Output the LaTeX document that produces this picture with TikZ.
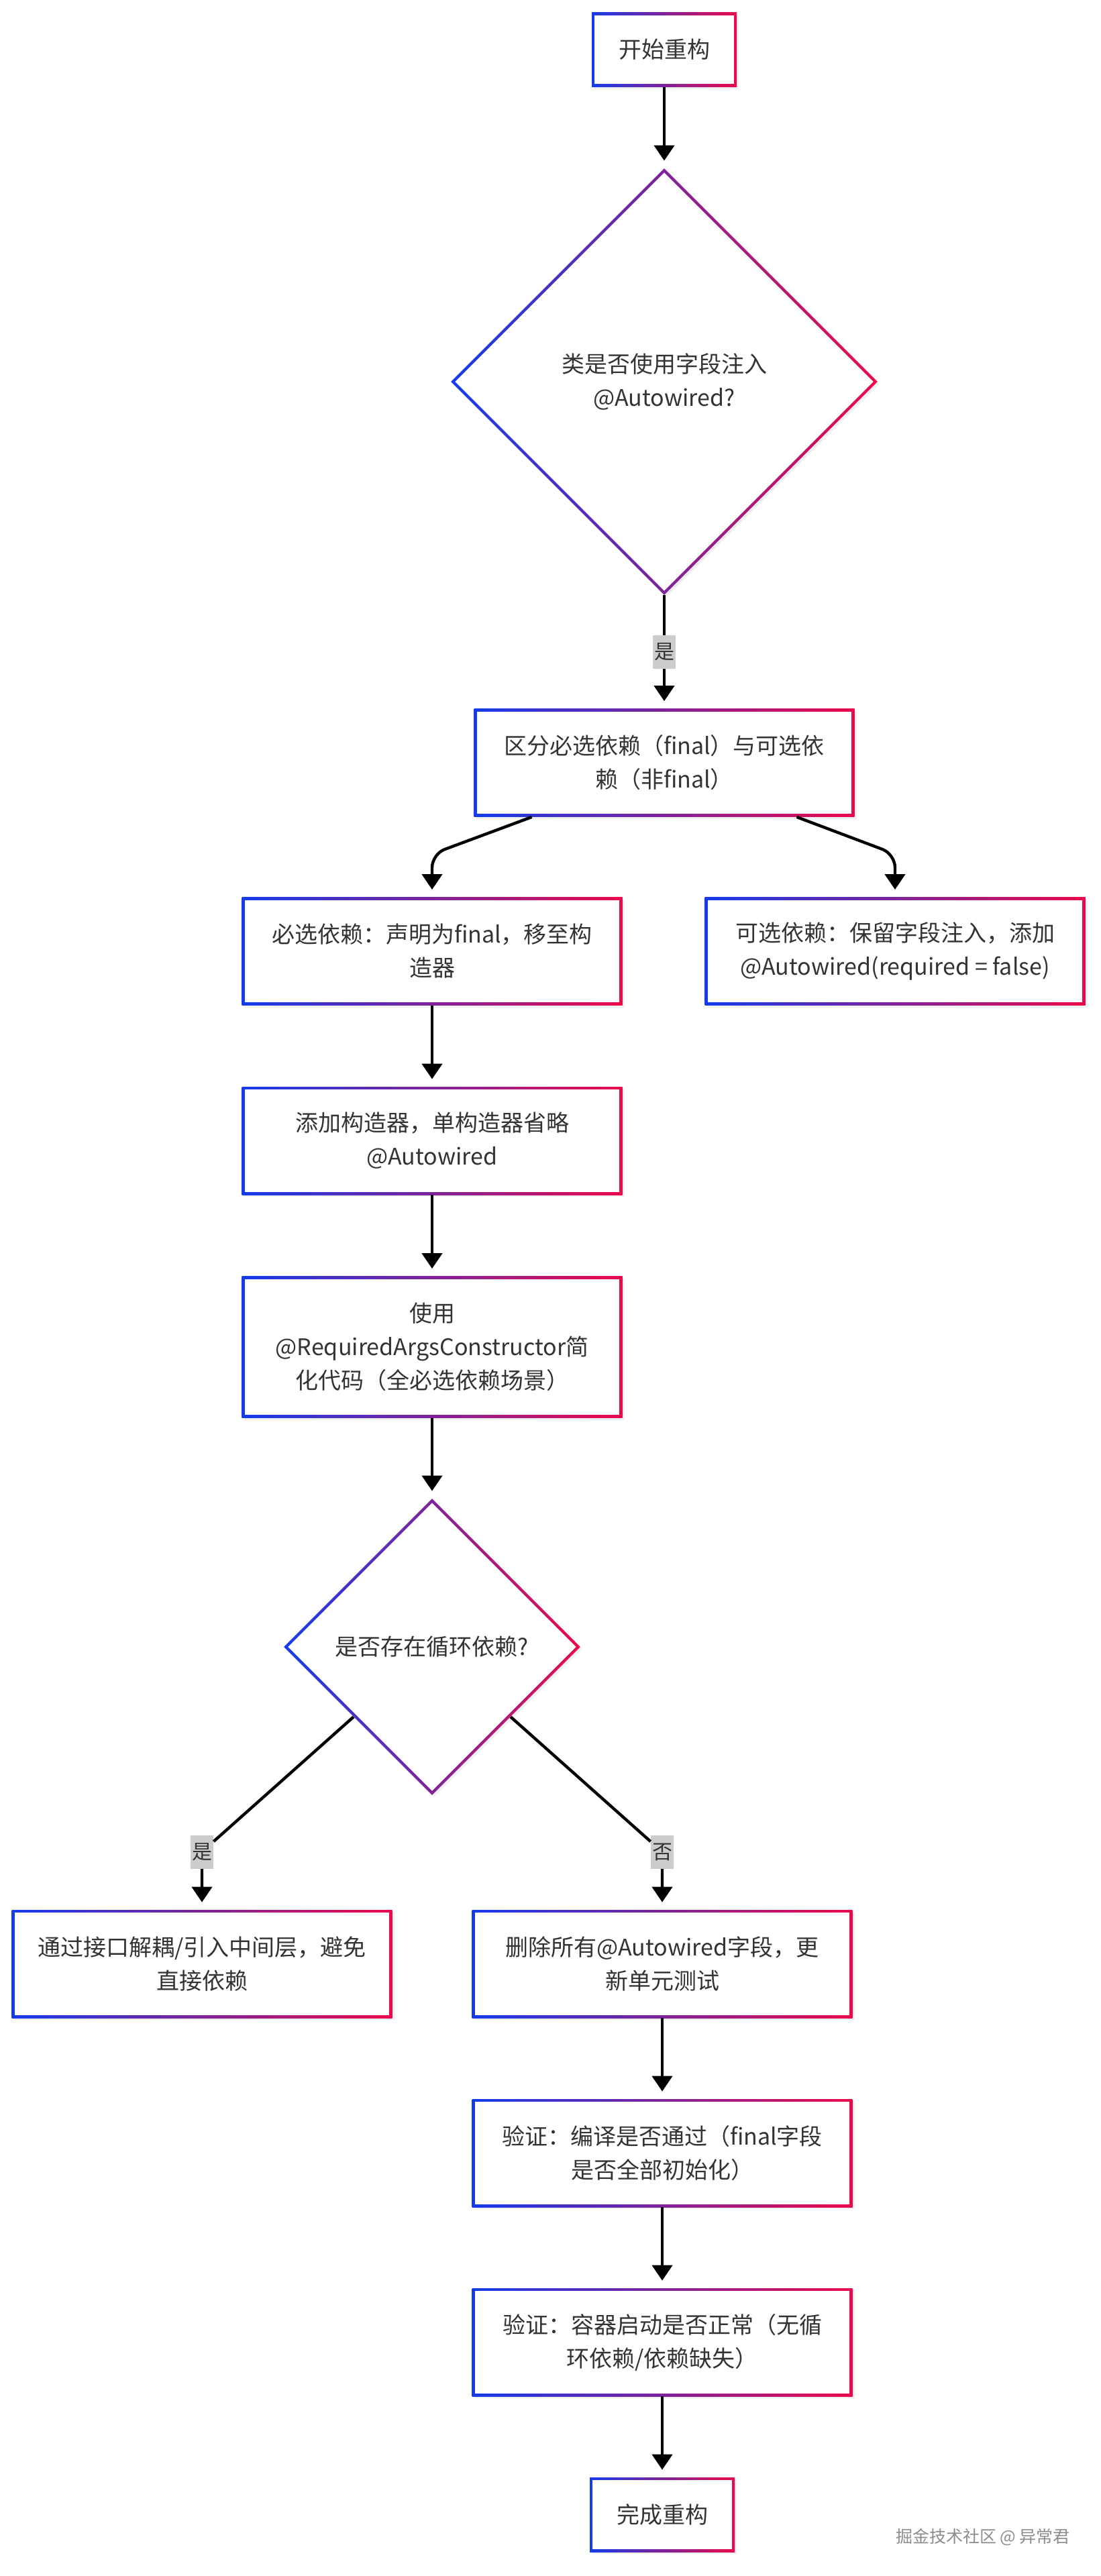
\documentclass[tikz,border=0pt]{standalone}
\usepackage{fontspec}
\setmainfont{Noto Sans CJK SC}
\usetikzlibrary{positioning,shapes.geometric,arrows.meta,shadows}
\definecolor{gradblue}{RGB}{20,60,235}
\definecolor{gradred}{RGB}{235,10,75}
\definecolor{textgray}{RGB}{51,51,51}
\definecolor{taggray}{RGB}{204,204,204}
\definecolor{markgray}{RGB}{140,140,140}
\newcommand{\boxfont}{\fontsize{17pt}{25pt}\selectfont}

\begin{document}
\begin{tikzpicture}[node distance=141pt,
step node/.style={rectangle,minimum width=283.5pt,minimum height=80.5pt,align=center,text=textgray,font=\boxfont,left color=gradblue,right color=gradred,drop shadow={opacity=0.12,shadow xshift=1.5pt,shadow yshift=-1.5pt},path picture={\fill[white] ([shift={(2.2pt,2.2pt)}]path picture bounding box.south west) rectangle ([shift={(-2.2pt,-2.2pt)}]path picture bounding box.north east);}},
end node/.style={step node,minimum width=108pt,minimum height=55.5pt},
choice node/.style={diamond,aspect=1,inner sep=2pt,align=center,text=textgray,font=\boxfont,left color=gradblue,right color=gradred,drop shadow={opacity=0.12,shadow xshift=1.5pt,shadow yshift=-1.5pt},path picture={\fill[white] ([yshift=-3.1pt]path picture bounding box.north) -- ([xshift=-3.1pt]path picture bounding box.east) -- ([yshift=3.1pt]path picture bounding box.south) -- ([xshift=3.1pt]path picture bounding box.west) -- cycle;}},
tag node/.style={fill=taggray,text=textgray,font=\fontsize{15pt}{17pt}\selectfont,inner xsep=1pt,inner ysep=0pt,minimum height=25pt},
flow/.style={draw,line width=2.2pt,-{Triangle[length=11.5pt,width=15pt]},shorten >=5.5pt}]
\useasboundingbox (0,0) rectangle (820pt,-1920pt);

\node[end node] (start) at (495pt,-37pt) {开始重构};
\node[choice node,minimum width=318pt,minimum height=318pt] (field) [below of=start,node distance=247.5pt] {类是否使用字段注入\\@Autowired?};
\node[step node] (split) [below of=field,node distance=284pt] {区分必选依赖（final）与可选依\\赖（非final）};
\node[step node] (required) [below of=split,xshift=-173pt,node distance=140.5pt] {必选依赖：声明为final，移至构\\造器};
\node[step node] (optional) [right of=required,node distance=345pt] {可选依赖：保留字段注入，添加\\@Autowired(required = false)};
\node[step node] (ctor) [below of=required,node distance=141.25pt] {添加构造器，单构造器省略\\@Autowired};
\node[step node,minimum height=105.5pt] (lombok) [below of=ctor,node distance=153.75pt] {使用\\@RequiredArgsConstructor简\\化代码（全必选依赖场景）};
\node[choice node,minimum width=221pt,minimum height=221pt] (cycle) [below of=lombok,node distance=223.5pt] {是否存在循环依赖?};
\node[step node] (decouple) [below of=cycle,xshift=-171.5pt,node distance=236.25pt] {通过接口解耦/引入中间层，避免\\直接依赖};
\node[step node] (remove) [right of=decouple,node distance=343pt] {删除所有@Autowired字段，更\\新单元测试};
\node[step node] (compile) [below of=remove] {验证：编译是否通过（final字段\\是否全部初始化）};
\node[step node] (boot) [below of=compile] {验证：容器启动是否正常（无循\\环依赖/依赖缺失）};
\node[end node] (done) [below of=boot,node distance=128.5pt] {完成重构};
\node[tag node] (yes) [above of=decouple,node distance=83.5pt] {是};
\node[tag node] (no) [above of=remove,node distance=83.5pt] {否};
\node[text=markgray,font=\fontsize{12.5pt}{14pt}\selectfont] (mark) at (732.5pt,-1891pt) {掘金技术社区 @ 异常君};

\draw[flow] (start) -- (field);
\draw[flow] (field) -- node[tag node] {是} (split);
\draw[flow,rounded corners=10pt] ([xshift=-98.75pt]split.south) -- ([yshift=32pt]required.north) -- (required);
\draw[flow,rounded corners=10pt] ([xshift=98.75pt]split.south) -- ([yshift=32pt]optional.north) -- (optional);
\draw[flow] (required) -- (ctor);
\draw[flow] (ctor) -- (lombok);
\draw[flow] (lombok) -- (cycle);
\draw[flow] (cycle) -- (yes) -- (decouple);
\draw[flow] (cycle) -- (no) -- (remove);
\draw[flow] (remove) -- (compile);
\draw[flow] (compile) -- (boot);
\draw[flow] (boot) -- (done);
\end{tikzpicture}
\end{document}
